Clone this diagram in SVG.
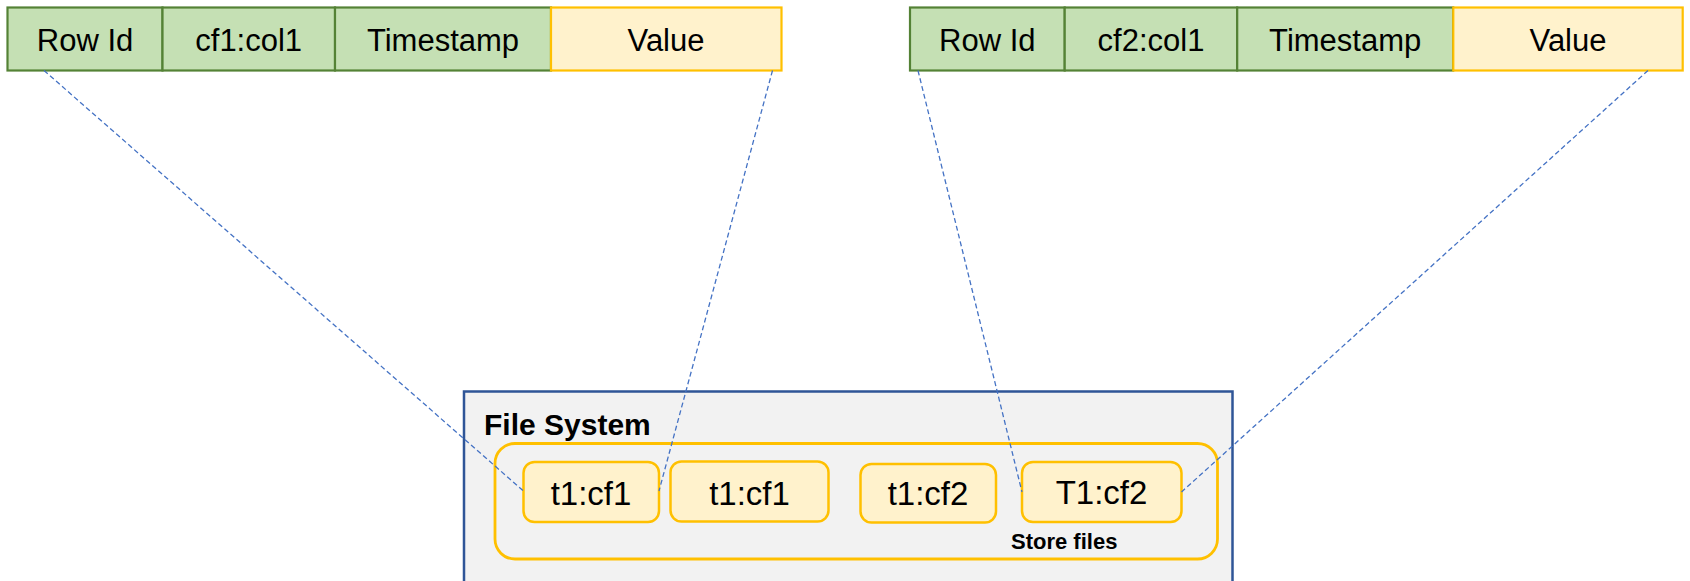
<svg xmlns="http://www.w3.org/2000/svg" width="1690" height="581" viewBox="0 0 1690 581">
<style>
.key{fill:#C5E0B4;stroke:#548235;stroke-width:2.2}
.val{fill:#FFF2CC;stroke:#FFC000;stroke-width:2.2}
.t{font-family:"Liberation Sans",Arial,sans-serif;font-size:31px;fill:#000;text-anchor:middle}
.sf{fill:#FFF2CC;stroke:#FFC000;stroke-width:2.5}
.sft{font-family:"Liberation Sans",Arial,sans-serif;font-size:33px;fill:#000;text-anchor:middle}
.b{font-family:"Liberation Sans",Arial,sans-serif;font-weight:bold;fill:#000}
.conn{fill:none;stroke:#4472C4;stroke-width:1.3;stroke-dasharray:5,3}
</style>
<rect width="1690" height="581" fill="#fff"/>
<g id="table1">
<rect class="key" x="7.5" y="7.5" width="155" height="63"/>
<rect class="key" x="162.5" y="7.5" width="172.5" height="63"/>
<rect class="key" x="335" y="7.5" width="216" height="63"/>
<rect class="val" x="551" y="7.5" width="230.5" height="63"/>
<text class="t" x="85" y="51">Row Id</text>
<text class="t" x="248.7" y="51">cf1:col1</text>
<text class="t" x="443" y="51">Timestamp</text>
<text class="t" x="666" y="51">Value</text>
</g>
<g id="table2">
<rect class="key" x="910" y="7.5" width="154.7" height="63"/>
<rect class="key" x="1064.7" y="7.5" width="172.5" height="63"/>
<rect class="key" x="1237.2" y="7.5" width="216" height="63"/>
<rect class="val" x="1453.3" y="7.5" width="229.4" height="63"/>
<text class="t" x="987.3" y="51">Row Id</text>
<text class="t" x="1151" y="51">cf2:col1</text>
<text class="t" x="1345.2" y="51">Timestamp</text>
<text class="t" x="1568" y="51">Value</text>
</g>
<g id="filesystem">
<rect x="464" y="391.5" width="768.5" height="200" fill="#F2F2F2" stroke="#2F5597" stroke-width="2.5"/>
<text class="b" x="484" y="435" font-size="30">File System</text>
</g>
<g id="storefiles">
<rect x="495" y="443.5" width="722.5" height="115.5" rx="20" fill="none" stroke="#FFC000" stroke-width="2.8"/>
<text class="b" x="1011" y="549" font-size="22">Store files</text>
</g>
<g id="sf1">
<rect class="sf" x="523.5" y="462" width="135.5" height="60" rx="11"/>
<text class="sft" x="591" y="505">t1:cf1</text>
</g>
<g id="sf2">
<rect class="sf" x="670.5" y="461.5" width="158" height="60" rx="11"/>
<text class="sft" x="749.5" y="505">t1:cf1</text>
</g>
<g id="sf3">
<rect class="sf" x="860.5" y="464" width="135.5" height="58.5" rx="11"/>
<text class="sft" x="928" y="505">t1:cf2</text>
</g>
<g id="sf4">
<rect class="sf" x="1022" y="462" width="159.5" height="60" rx="11"/>
<text class="sft" x="1101.5" y="504">T1:cf2</text>
</g>
<g id="connectors">
<line class="conn" x1="44" y1="70.5" x2="523.5" y2="491"/>
<line class="conn" x1="772.5" y1="70.5" x2="659" y2="491"/>
<line class="conn" x1="918" y1="70.5" x2="1022" y2="492"/>
<line class="conn" x1="1648" y1="70.5" x2="1181.5" y2="492"/>
</g>
</svg>
